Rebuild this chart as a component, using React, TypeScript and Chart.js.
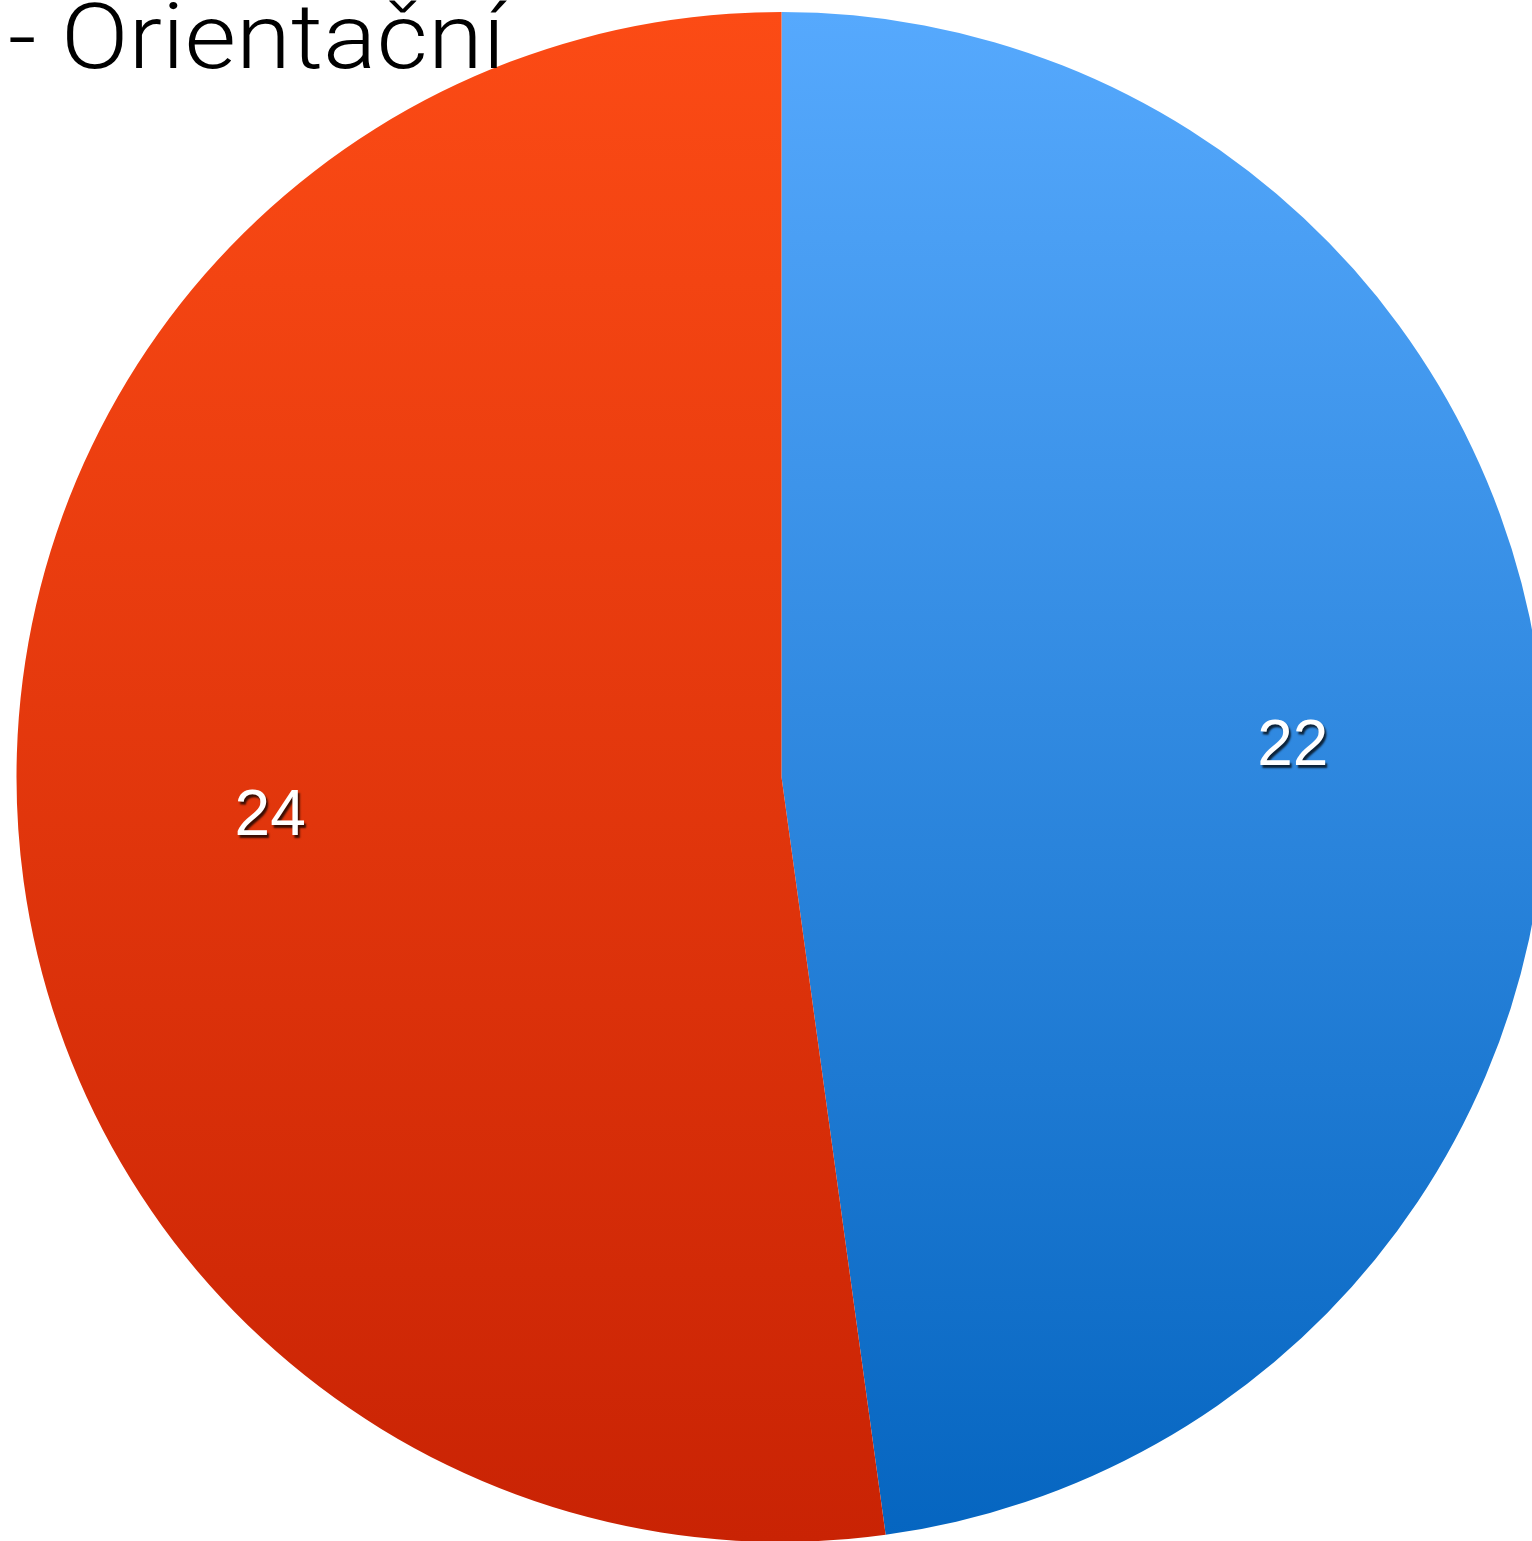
import React, { useEffect, useRef } from "react";
import { Chart, registerables } from "chart.js";

Chart.register(...registerables);

const categories = ["Ano", "Ne"];
const values = [22, 24];
const sliceLabels = ["22", "24"];
const titleText = "- Orientační";
const gradientTops = ["#56a9fd", "#fc4b15"];
const gradientBottoms = ["#0565c0", "#c92304"];

export default function App() {
  const ref = useRef<HTMLCanvasElement | null>(null);
  useEffect(() => {
    const canvas = ref.current;
    if (!canvas) return;
    const labelPlugin = {
      id: "labelsAndTitle",
      afterDraw(chart: any) {
        const ctx = chart.ctx;
        const meta = chart.getDatasetMeta(0);
        ctx.save();
        ctx.font = "64px 'Liberation Sans', Arial, sans-serif";
        ctx.textAlign = "center";
        ctx.textBaseline = "middle";
        meta.data.forEach((arc: any, i: number) => {
          const p = arc.getProps(["x", "y", "startAngle", "endAngle", "outerRadius"], true);
          const mid = (p.startAngle + p.endAngle) / 2;
          const r = p.outerRadius * 0.67;
          const x = p.x + Math.cos(mid) * r;
          const y = p.y + Math.sin(mid) * r + 5;
          ctx.shadowColor = "rgba(0,0,0,0.75)";
          ctx.shadowOffsetX = 2;
          ctx.shadowOffsetY = 3;
          ctx.shadowBlur = 2;
          ctx.fillStyle = "#ffffff";
          ctx.fillText(sliceLabels[i], x, y);
        });
        ctx.restore();
        ctx.save();
        ctx.font = "300 91px Roboto, 'Liberation Sans', sans-serif";
        ctx.textAlign = "left";
        ctx.textBaseline = "alphabetic";
        ctx.fillStyle = "#000000";
        const w = ctx.measureText(titleText).width;
        const sx = 497 / w;
        ctx.translate(8, 68);
        ctx.scale(sx, 1);
        ctx.fillText(titleText, 0, 0);
        ctx.restore();
      },
    };
    const chart = new Chart(canvas, {
      type: "pie",
      data: {
        labels: categories,
        datasets: [
          {
            data: values,
            borderWidth: 0,
            backgroundColor: (c: any) => {
              const area = c.chart.chartArea;
              const i = c.dataIndex ?? 0;
              if (!area) return gradientTops[i];
              const g = c.chart.ctx.createLinearGradient(0, area.top, 0, area.bottom);
              g.addColorStop(0, gradientTops[i]);
              g.addColorStop(1, gradientBottoms[i]);
              return g;
            },
          },
        ],
      },
      options: {
        animation: false,
        responsive: false,
        maintainAspectRatio: false,
        layout: { padding: { top: 12, bottom: 12, left: 0, right: 0 } },
        plugins: {
          legend: { display: false },
          tooltip: { enabled: false },
          title: { display: false },
        },
      },
      plugins: [labelPlugin],
    });
    return () => chart.destroy();
  }, []);
  return (
    <div style={{ position: "fixed", left: 0, top: 0, width: 1532, height: 1541, overflow: "hidden", background: "#fff" }}>
      <canvas ref={ref} width={1563} height={1554} style={{ position: "absolute", left: 0, top: 0, width: 1563, height: 1554 }} />
    </div>
  );
}
